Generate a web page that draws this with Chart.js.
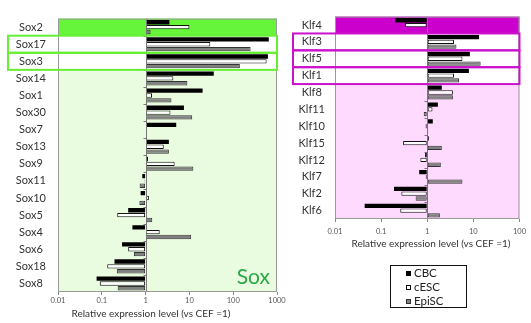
<!DOCTYPE html>
<html><head><meta charset="utf-8">
<script src="https://cdn.jsdelivr.net/npm/chart.js@4"></script>
<style>
html,body{margin:0;padding:0;background:#fff;width:531px;height:323px;overflow:hidden;position:relative;}
#c1{position:absolute;left:0;top:0;}
#c2{position:absolute;left:280px;top:0;}
#legend{position:absolute;left:390px;top:265px;width:75px;height:41px;border:1px solid #111;font-family:Lato,sans-serif;font-size:11.5px;color:#222;box-sizing:content-box;}
#legend div{position:absolute;left:15px;height:14px;line-height:14px;}
#legend span{display:inline-block;width:5px;height:5px;margin-right:3px;vertical-align:1px;box-sizing:border-box;}
</style></head>
<body>
<canvas id="c1" width="300" height="323"></canvas>
<canvas id="c2" width="251" height="260"></canvas>
<div id="legend"></div>
<script>
const seriesNames = ['CBC', 'cESC', 'EpiSC'];
const axisTitle = 'Relative expression level (vs CEF =1)';

const soxGenes = ['Sox2','Sox17','Sox3','Sox14','Sox1','Sox30','Sox7','Sox13','Sox9','Sox11','Sox10','Sox5','Sox4','Sox6','Sox18','Sox8'];
const soxCBC   = [3.5, 650, 620, 36, 20, 7.5, 5.0, 3.4, 1.13, 0.84, 0.77, 0.4, 0.5, 0.29, 0.195, 0.076];
const soxCESC  = [10, 30, 580, 4.3, 1.4, 3.7, 0.97, 2.6, 4.6, 0.95, 1.19, 0.225, 2.1, 0.40, 0.133, 0.09];
const soxEpiSC = [1.3, 250, 142, 9, 3.9, 11.6, 1.08, 3.4, 12.3, 0.73, 0.72, 1.42, 11, 0.54, 0.22, 0.23];
const soxTickVals   = [0.01, 0.1, 1, 10, 100, 1000];
const soxTickLabels = ['0.01', '0.1', '1', '10', '100', '1000'];

const klfGenes = ['Klf4','Klf3','Klf5','Klf1','Klf8','Klf11','Klf10','Klf15','Klf12','Klf7','Klf2','Klf6'];
const klfCBC   = [0.2, 13.3, 8.4, 8, 2.07, 1.7, 1.32, 1.08, 0.9, 0.67, 0.19, 0.044];
const klfCESC  = [0.33, 3.8, 5.8, 3.8, 3.6, 1.3, 0.92, 0.3, 0.71, 0.93, 0.275, 0.26];
const klfEpiSC = [0.97, 4.3, 14.4, 4.9, 3.6, 0.84, 1.05, 2.07, 1.97, 5.8, 0.56, 1.88];
const klfTickVals   = [0.01, 0.1, 1, 10, 100];
const klfTickLabels = ['0.01', '0.1', '1', '10', '100'];

const FONT = 'Lato, "Open Sans", sans-serif';

function decorPlugin(cfg) {
  return {
    id: 'decor',
    beforeDatasetsDraw(chart) {
      const {ctx, chartArea: a} = chart;
      const n = chart.data.labels.length;
      const rh = (a.bottom - a.top) / n;
      ctx.save();
      ctx.fillStyle = cfg.light;
      ctx.fillRect(a.left, a.top, a.right - a.left, a.bottom - a.top);
      cfg.strong.forEach(i => { ctx.fillStyle = cfg.strongColor; ctx.fillRect(a.left, a.top + i * rh, a.right - a.left, rh); });
      cfg.boxed.forEach(i => { ctx.fillStyle = '#fff'; ctx.fillRect(a.left, a.top + i * rh, a.right - a.left, rh); });
      ctx.restore();
    },
    afterDatasetsDraw(chart) {
      const {ctx, chartArea: a} = chart;
      const n = chart.data.labels.length;
      const rh = (a.bottom - a.top) / n;
      const x1 = Math.round(chart.scales.x.getPixelForValue(1)) + 0.5;
      ctx.save();
      ctx.strokeStyle = '#777'; ctx.lineWidth = 1;
      ctx.beginPath(); ctx.moveTo(x1, a.top); ctx.lineTo(x1, a.bottom);
      for (let i = 1; i < n; i++) { const y = Math.round(a.top + i * rh) + 0.5; ctx.moveTo(x1 - 3, y); ctx.lineTo(x1, y); }
      ctx.stroke();
      ctx.strokeStyle = '#999';
      ctx.strokeRect(a.left + 0.5, a.top + 0.5, a.right - a.left - 1, a.bottom - a.top - 1);
      ctx.strokeStyle = cfg.boxColor; ctx.lineWidth = 2;
      cfg.boxed.forEach(i => { ctx.strokeRect(cfg.boxLeft, a.top + i * rh, a.right - cfg.boxLeft, rh); });
      ctx.fillStyle = cfg.bigColor; ctx.font = cfg.bigFont; ctx.textAlign = 'right'; ctx.textBaseline = 'alphabetic';
      ctx.fillText(cfg.big, cfg.bigX, cfg.bigY);
      ctx.fillStyle = '#333'; ctx.font = '10px ' + FONT; ctx.textAlign = 'center'; ctx.textBaseline = 'middle';
      ctx.fillText(axisTitle, cfg.titleX, cfg.titleY);
      ctx.restore();
    }
  };
}

function makeChart(id, genes, cbc, cesc, epi, tickVals, tickLabels, opt) {
  return new Chart(document.getElementById(id), {
    type: 'bar',
    data: {
      labels: genes,
      datasets: [
        {label: seriesNames[0], data: cbc, base: 1, backgroundColor: '#000', borderColor: '#000', borderWidth: 0},
        {label: seriesNames[1], data: cesc, base: 1, backgroundColor: '#fff', borderColor: '#111', borderWidth: 1, borderSkipped: false},
        {label: seriesNames[2], data: epi, base: 1, backgroundColor: '#808080', borderColor: '#333', borderWidth: 1, borderSkipped: false}
      ]
    },
    options: {
      indexAxis: 'y', responsive: false, animation: false,
      layout: {padding: {top: 8, right: opt.padRight, left: 0, bottom: 0}},
      categoryPercentage: 0.85, barPercentage: 0.9,
      plugins: {legend: {display: false}, tooltip: {enabled: false}},
      scales: {
        x: {
          type: 'logarithmic', min: tickVals[0], max: tickVals[tickVals.length - 1],
          afterBuildTicks: s => { s.ticks = tickVals.map(v => ({value: v})); },
          afterFit: s => { s.height = opt.xHeight; },
          border: {display: false},
          grid: {display: true, drawOnChartArea: false, drawTicks: true, tickLength: 3, color: '#888'},
          ticks: {autoSkip: false, maxRotation: 0, padding: opt.tickPad, color: '#555', font: {family: FONT, size: 7.5},
                  callback: (v, i) => tickLabels[i]}
        },
        y: {
          type: 'category',
          afterFit: s => { s.width = opt.yWidth; },
          border: {display: false},
          grid: {display: false, drawTicks: false},
          ticks: {autoSkip: false, crossAlign: 'center', padding: opt.yPad, color: '#333', font: {family: FONT, size: 11}}
        }
      }
    },
    plugins: [decorPlugin(opt.decor)]
  });
}

makeChart('c1', soxGenes, soxCBC, soxCESC, soxEpiSC, soxTickVals, soxTickLabels, {
  padRight: 23, xHeight: 31, yWidth: 58, tickPad: 1, yPad: 12,
  decor: {light: '#eafce0', strong: [0], strongColor: '#66f53a', boxed: [1, 2], boxColor: '#66ee33', boxLeft: 8,
          big: 'Sox', bigColor: '#2aa84a', bigFont: '21px ' + FONT, bigX: 270, bigY: 284, titleX: 151, titleY: 314}
});
makeChart('c2', klfGenes, klfCBC, klfCESC, klfEpiSC, klfTickVals, klfTickLabels, {
  padRight: 4, xHeight: 41, yWidth: 55, tickPad: 5, yPad: 10,
  decor: {light: '#ffdaff', strong: [0], strongColor: '#cc00cc', boxed: [1, 2, 3], boxColor: '#cc11cc', boxLeft: 13,
          big: 'Klf', bigColor: '#c42ec4', bigFont: '22px ' + FONT, bigX: 518, bigY: 212, titleX: 151, titleY: 244}
});

const legendSwatches = [
  'background:#000;border:1px solid #000',
  'background:#fff;border:1px solid #111',
  'background:#808080;border:1px solid #333'
];
const leg = document.getElementById('legend');
seriesNames.forEach((name, i) => {
  const d = document.createElement('div');
  d.style.top = (0 + i * 14) + 'px';
  const sw = document.createElement('span');
  sw.setAttribute('style', legendSwatches[i]);
  d.appendChild(sw);
  d.appendChild(document.createTextNode(name));
  leg.appendChild(d);
});
</script>
</body></html>
